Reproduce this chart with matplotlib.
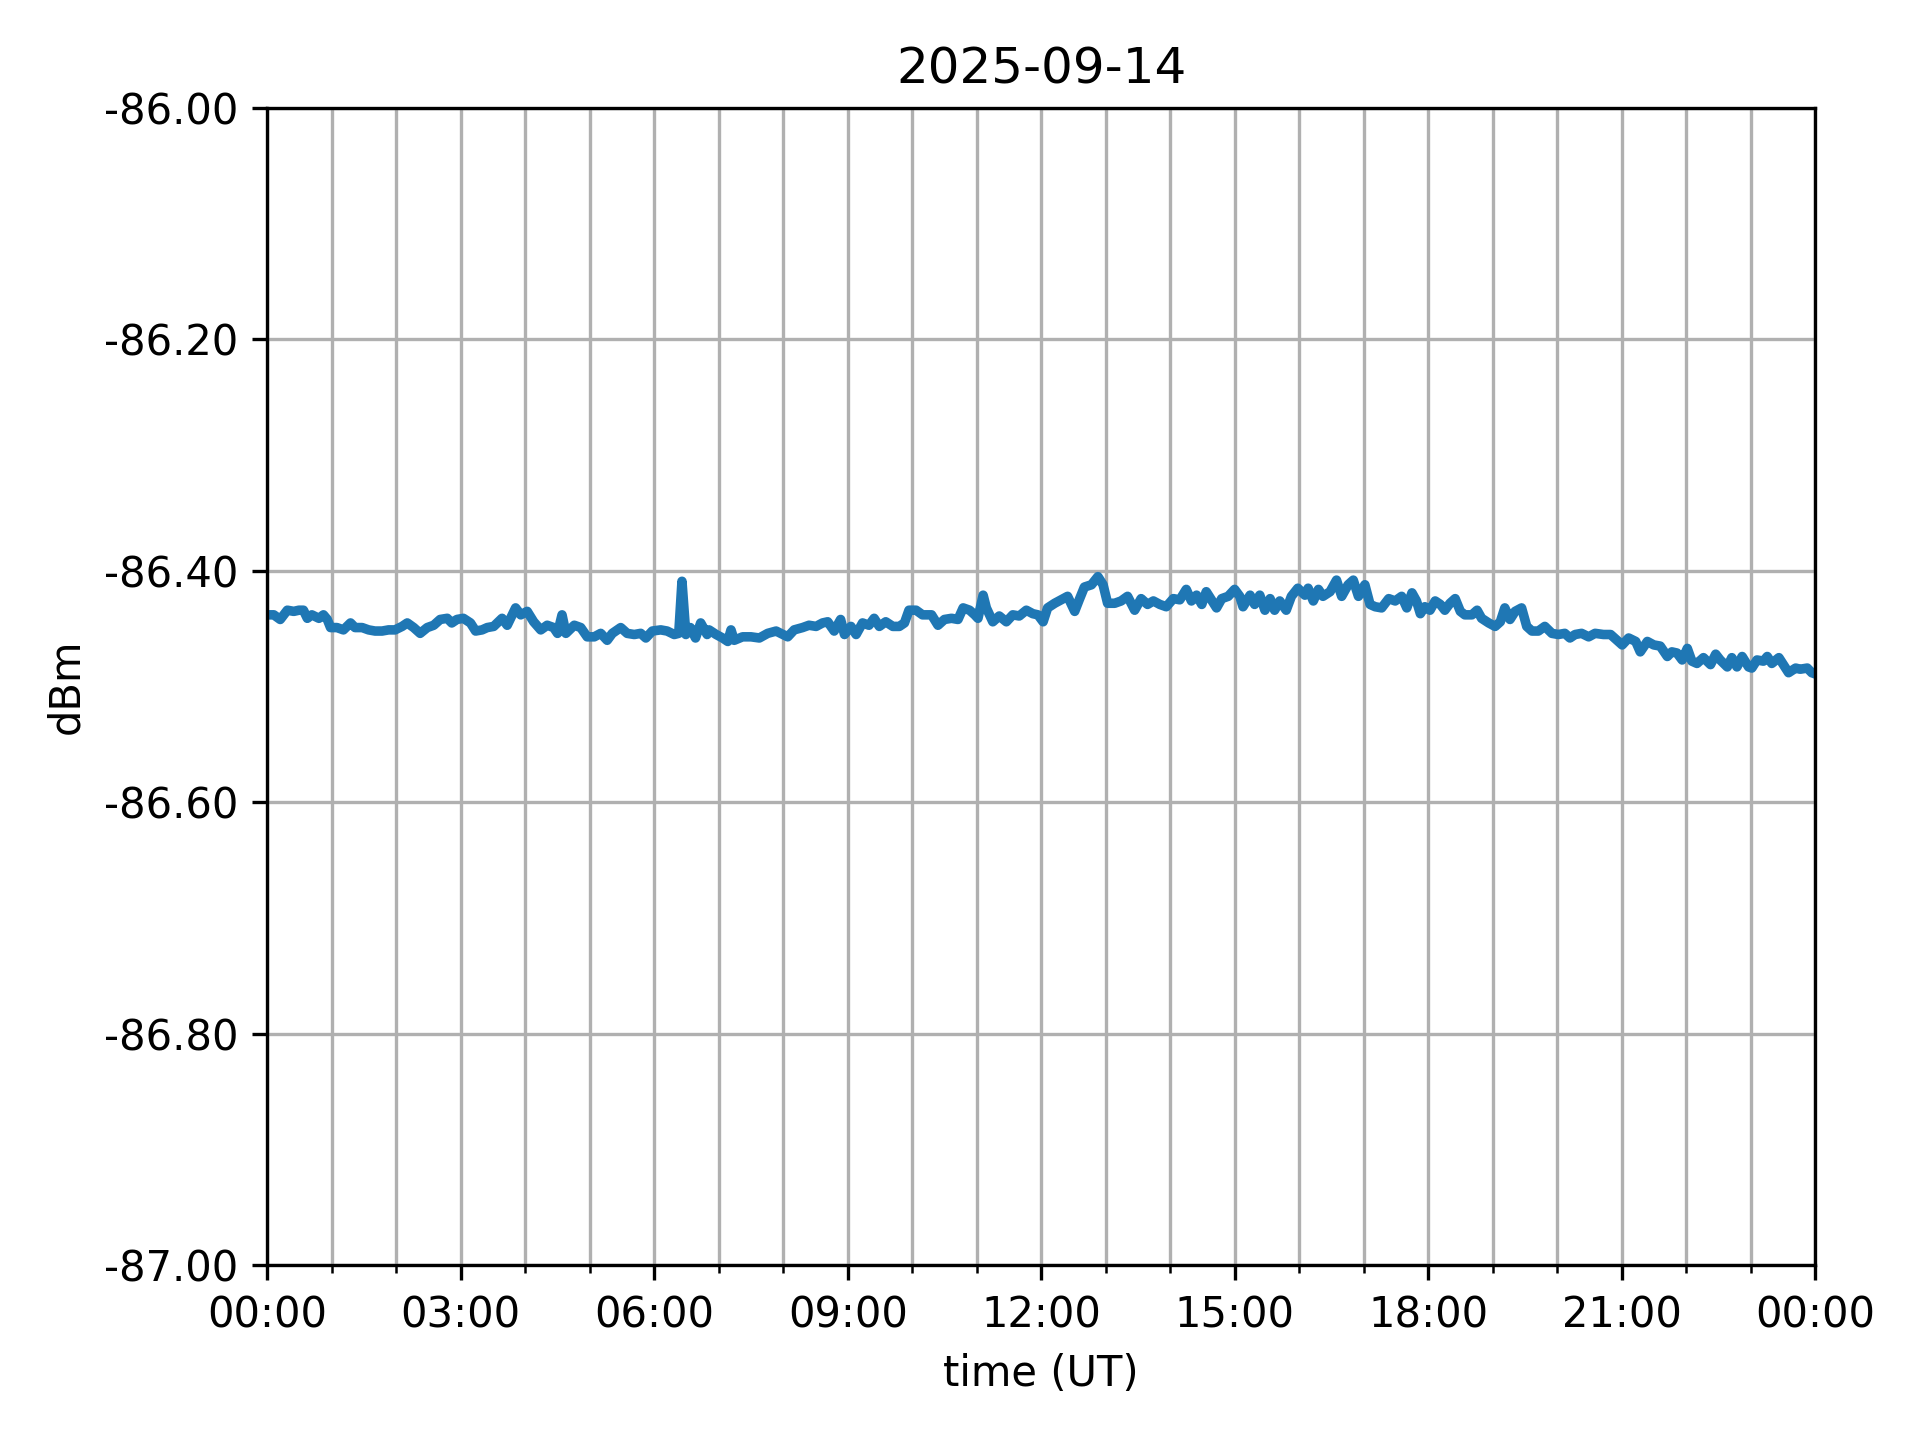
import datetime as dt
import matplotlib
matplotlib.use("Agg")
import matplotlib.pyplot as plt
import matplotlib.dates as mdates
from matplotlib.ticker import FormatStrFormatter

#%% data (hours after 00:00 UT, dBm)
hours = [0.02, 0.10, 0.20, 0.31, 0.41, 0.49, 0.56, 0.62, 0.69, 0.80, 0.87, 0.93, 0.98,
         1.08, 1.18, 1.29, 1.36, 1.47, 1.57, 1.67, 1.78, 1.88, 1.98, 2.09, 2.17, 2.27,
         2.37, 2.48, 2.58, 2.68, 2.79, 2.86, 2.94, 3.04, 3.15, 3.23, 3.33, 3.41,
         3.51, 3.64, 3.72, 3.85, 3.93, 4.03, 4.13, 4.24, 4.34, 4.44, 4.50, 4.57, 4.63,
         4.76, 4.86, 4.96, 5.07, 5.17, 5.27, 5.35, 5.48, 5.58, 5.69, 5.79, 5.87, 5.97,
         6.10, 6.20, 6.31, 6.38, 6.43, 6.49, 6.56, 6.64, 6.72, 6.82,
         6.85, 6.96, 7.06, 7.14, 7.19, 7.24, 7.37, 7.50, 7.63, 7.76, 7.89, 7.96, 8.07,
         8.17, 8.30, 8.40, 8.51, 8.61, 8.69, 8.79, 8.89, 8.95, 9.05, 9.13, 9.23, 9.33,
         9.41, 9.49, 9.59, 9.70, 9.80, 9.88, 9.95, 10.06, 10.16, 10.26,
         10.30, 10.40, 10.50, 10.61, 10.71, 10.79, 10.89, 10.97, 11.02, 11.10, 11.15,
         11.25, 11.35, 11.46, 11.56, 11.66, 11.77, 11.87, 11.95, 12.03, 12.10, 12.21,
         12.31, 12.41, 12.52, 12.59, 12.67, 12.78, 12.88, 12.96, 13.03, 13.14, 13.24,
         13.34, 13.45, 13.55, 13.65, 13.74,
         13.84, 13.94, 14.05, 14.15, 14.25, 14.33, 14.41, 14.49, 14.56, 14.64, 14.72,
         14.80, 14.90, 15.00, 15.08, 15.13, 15.24, 15.31, 15.39, 15.47, 15.55, 15.62,
         15.70, 15.80, 15.88, 15.98, 16.09, 16.14, 16.22, 16.30, 16.37, 16.48, 16.58,
         16.66, 16.76, 16.84, 16.92, 17.02, 17.10, 17.18,
         17.28, 17.39, 17.49, 17.59, 17.67, 17.75, 17.82, 17.88, 17.95, 18.03, 18.11,
         18.19, 18.26, 18.34, 18.42, 18.50, 18.57, 18.68, 18.76, 18.83, 18.94, 19.04,
         19.12, 19.19, 19.27, 19.35, 19.45, 19.53, 19.61, 19.71, 19.81, 19.92, 20.02,
         20.12, 20.20, 20.28, 20.38, 20.49, 20.59,
         20.72, 20.83, 20.93, 21.01, 21.11, 21.22, 21.29, 21.40, 21.50, 21.60, 21.71,
         21.78, 21.86, 21.94, 22.02, 22.09, 22.17, 22.27, 22.38, 22.46, 22.53, 22.64,
         22.71, 22.79, 22.87, 22.97, 23.02, 23.10, 23.20, 23.26, 23.33, 23.44, 23.51,
         23.59, 23.70, 23.77, 23.88, 23.95, 24.00]
dbm = [-86.438, -86.438, -86.442, -86.434, -86.435, -86.434, -86.434, -86.441, -86.438,
       -86.441, -86.438, -86.442, -86.449, -86.449, -86.451, -86.445, -86.449, -86.449,
       -86.451, -86.452, -86.452, -86.451, -86.451, -86.448, -86.445, -86.449, -86.454,
       -86.449, -86.447, -86.442, -86.441, -86.445, -86.442, -86.441, -86.445, -86.452,
       -86.451, -86.449,
       -86.448, -86.441, -86.447, -86.432, -86.438, -86.435, -86.444, -86.451, -86.447,
       -86.449, -86.454, -86.438, -86.454, -86.447, -86.449, -86.457, -86.457, -86.454,
       -86.460, -86.454, -86.449, -86.454, -86.455, -86.454, -86.458, -86.452, -86.451,
       -86.452, -86.455, -86.454, -86.409, -86.455, -86.449, -86.458, -86.445, -86.455,
       -86.451, -86.455, -86.458, -86.461, -86.451, -86.460, -86.457, -86.457, -86.458,
       -86.454, -86.452, -86.454, -86.457, -86.451, -86.449, -86.447, -86.448, -86.445,
       -86.444, -86.452, -86.442, -86.455, -86.448, -86.455, -86.445, -86.447, -86.441,
       -86.448, -86.444, -86.448, -86.448, -86.445, -86.434, -86.434, -86.438, -86.438,
       -86.438, -86.447, -86.442, -86.441, -86.442, -86.432, -86.434, -86.438, -86.441,
       -86.421, -86.432, -86.444, -86.439, -86.444, -86.438, -86.439, -86.434, -86.437,
       -86.438, -86.444, -86.432, -86.428, -86.425, -86.422, -86.435, -86.425, -86.414,
       -86.412, -86.405, -86.412, -86.428, -86.428, -86.426, -86.422, -86.434, -86.424,
       -86.429, -86.426,
       -86.429, -86.431, -86.424, -86.425, -86.416, -86.426, -86.421, -86.429, -86.418,
       -86.425, -86.432, -86.424, -86.422, -86.416, -86.422, -86.431, -86.421, -86.429,
       -86.421, -86.434, -86.424, -86.434, -86.426, -86.434, -86.422, -86.415, -86.421,
       -86.415, -86.426, -86.416, -86.422, -86.418, -86.408, -86.422, -86.412, -86.408,
       -86.422, -86.412, -86.429, -86.431,
       -86.432, -86.424, -86.426, -86.422, -86.432, -86.419, -86.426, -86.437, -86.431,
       -86.434, -86.426, -86.429, -86.434, -86.428, -86.424, -86.435, -86.438, -86.438,
       -86.434, -86.441, -86.445, -86.448, -86.444, -86.432, -86.442, -86.435, -86.432,
       -86.448, -86.452, -86.452, -86.448, -86.454, -86.455, -86.454, -86.458, -86.455,
       -86.454, -86.457, -86.454,
       -86.455, -86.455, -86.460, -86.464, -86.458, -86.461, -86.470, -86.461, -86.464,
       -86.465, -86.474, -86.470, -86.471, -86.477, -86.467, -86.478, -86.480, -86.475,
       -86.481, -86.472, -86.477, -86.483, -86.475, -86.483, -86.474, -86.483, -86.484,
       -86.477, -86.478, -86.474, -86.480, -86.475, -86.481, -86.488, -86.484, -86.485,
       -86.484, -86.488, -86.489]

day = dt.datetime(2025, 9, 14)
times = [day + dt.timedelta(hours=h) for h in hours]

#%% plot
fig, ax = plt.subplots(figsize=(6.4, 4.8), dpi=300)
ax.plot(times, dbm, color="#1f77b4", linewidth=2.3)

ax.set_xlim(day, day + dt.timedelta(days=1))
ax.set_ylim(-87.0, -86.0)
ax.xaxis.set_major_locator(mdates.HourLocator(byhour=range(0, 24, 3)))
ax.xaxis.set_minor_locator(mdates.HourLocator())
ax.xaxis.set_major_formatter(mdates.DateFormatter("%H:%M"))
ax.yaxis.set_major_formatter(FormatStrFormatter("%.2f"))
ax.grid(True, which="both", axis="x")
ax.grid(True, which="major", axis="y")

ax.set_title("2025-09-14")
ax.set_xlabel("time (UT)")
ax.set_ylabel("dBm")
plt.tight_layout()
plt.savefig("out.png", dpi=300)
